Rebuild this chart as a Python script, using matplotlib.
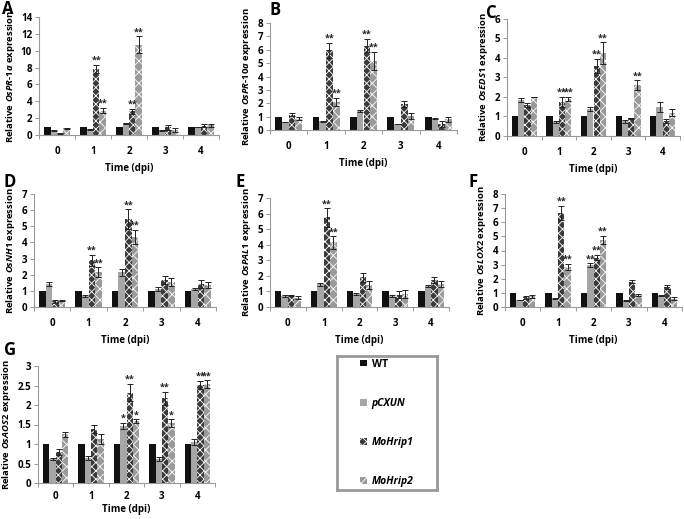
import numpy as np
import matplotlib
matplotlib.use('Agg')
import matplotlib.pyplot as plt
from matplotlib.patches import Patch

plt.rcParams['font.family'] = ['Open Sans', 'DejaVu Sans']
plt.rcParams['mathtext.fontset'] = 'custom'
plt.rcParams['mathtext.it'] = 'Open Sans:italic:bold'
plt.rcParams['mathtext.rm'] = 'Open Sans:bold'
plt.rcParams['hatch.linewidth'] = 0.6

days = ['0', '1', '2', '3', '4']
series = ['WT', 'pCXUN', 'MoHrip1', 'MoHrip2']

# mean values per panel: rows = series (WT, pCXUN, MoHrip1, MoHrip2), cols = days
pr1a = [[1, 1, 1, 1, 1],
        [0.55, 0.7, 1.4, 0.55, 0.95],
        [0.2, 7.8, 2.8, 0.9, 1.1],
        [0.8, 2.9, 10.7, 0.6, 1.15]]
pr1a_err = [[0, 0, 0, 0, 0],
            [0.03, 0.05, 0.05, 0.03, 0.05],
            [0.03, 0.5, 0.3, 0.3, 0.2],
            [0.05, 0.3, 1.0, 0.2, 0.2]]

pr10a = [[1, 1, 1, 1, 1],
         [0.6, 0.65, 1.45, 0.45, 0.85],
         [1.15, 5.95, 6.3, 1.95, 0.45],
         [0.85, 2.1, 5.15, 1.05, 0.8]]
pr10a_err = [[0, 0, 0, 0, 0],
             [0.03, 0.03, 0.07, 0.03, 0.05],
             [0.1, 0.55, 0.5, 0.2, 0.2],
             [0.1, 0.3, 0.7, 0.2, 0.2]]

eds1 = [[1, 1, 1, 1, 1],
        [1.85, 0.72, 1.4, 0.75, 1.5],
        [1.6, 1.75, 3.6, 0.9, 0.75],
        [2.0, 1.9, 4.25, 2.6, 1.2]]
eds1_err = [[0, 0, 0, 0, 0],
            [0.12, 0.05, 0.1, 0.07, 0.25],
            [0.1, 0.25, 0.35, 0.03, 0.1],
            [0.02, 0.12, 0.55, 0.25, 0.2]]

nh1 = [[1, 1, 1, 1, 1],
       [1.45, 0.7, 2.15, 1.1, 1.1],
       [0.35, 2.9, 5.45, 1.7, 1.4],
       [0.4, 2.15, 4.35, 1.55, 1.35]]
nh1_err = [[0, 0, 0, 0, 0],
           [0.12, 0.05, 0.2, 0.12, 0.07],
           [0.08, 0.35, 0.6, 0.25, 0.25],
           [0.05, 0.3, 0.45, 0.25, 0.2]]

pal1 = [[1, 1, 1, 1, 1],
        [0.7, 1.45, 0.85, 0.7, 1.35],
        [0.75, 5.75, 1.9, 0.8, 1.75],
        [0.6, 4.15, 1.4, 0.85, 1.5]]
pal1_err = [[0, 0, 0, 0, 0],
            [0.05, 0.08, 0.05, 0.05, 0.05],
            [0.05, 0.6, 0.3, 0.25, 0.2],
            [0.1, 0.4, 0.25, 0.25, 0.2]]

lox2 = [[1, 1, 1, 1, 1],
        [0.5, 0.6, 2.95, 0.45, 0.8],
        [0.7, 6.65, 3.5, 1.8, 1.4],
        [0.75, 2.85, 4.75, 0.85, 0.6]]
lox2_err = [[0, 0, 0, 0, 0],
            [0.02, 0.03, 0.15, 0.02, 0.05],
            [0.1, 0.5, 0.2, 0.1, 0.15],
            [0.1, 0.2, 0.3, 0.1, 0.1]]

aos2 = [[1, 1, 1, 1, 1],
        [0.62, 0.63, 1.47, 0.62, 1.05],
        [0.8, 1.38, 2.32, 2.17, 2.52],
        [1.25, 1.13, 1.58, 1.53, 2.53]]
aos2_err = [[0, 0, 0, 0, 0],
            [0.03, 0.05, 0.08, 0.05, 0.08],
            [0.07, 0.1, 0.22, 0.17, 0.1],
            [0.07, 0.12, 0.05, 0.1, 0.1]]

# significance marks: (day index, series index, text)
pr1a_sig = [(1, 2, '**'), (1, 3, '**'), (2, 2, '**'), (2, 3, '**')]
pr10a_sig = [(1, 2, '**'), (1, 3, '**'), (2, 2, '**'), (2, 3, '**')]
eds1_sig = [(1, 2, '**'), (1, 3, '**'), (2, 2, '**'), (2, 3, '**'), (3, 3, '**')]
nh1_sig = [(1, 2, '**'), (1, 3, '**'), (2, 2, '**'), (2, 3, '**')]
pal1_sig = [(1, 2, '**'), (1, 3, '**')]
lox2_sig = [(1, 2, '**'), (1, 3, '**'), (2, 1, '**'), (2, 2, '**'), (2, 3, '**')]
aos2_sig = [(2, 1, '*'), (2, 2, '**'), (2, 3, '*'), (3, 2, '**'), (3, 3, '*'),
            (4, 2, '**'), (4, 3, '**')]

W, H = 684, 519
fig = plt.figure(figsize=(W / 100, H / 100), dpi=100)

styles = [dict(color='#111111'),
          dict(color='#a6a6a6'),
          dict(facecolor='#3a3a3a', edgecolor='white', hatch='xxxx'),
          dict(facecolor='#9a9a9a', edgecolor='white', hatch='xxx')]


def px_axes(left, right, top, bottom):
    return fig.add_axes([left / W, 1 - bottom / H, (right - left) / W, (bottom - top) / H])


def panel(rect, vals, errs, sigs, ymax, yticks, gene, letter, letter_xy,
          xpad=8, xlabelpad=4):
    ax = px_axes(*rect)
    x = np.arange(len(days))
    bw = 0.18
    for i in range(4):
        xs = x + (i - 1.5) * bw
        ax.bar(xs, vals[i], bw, linewidth=0, **styles[i])
        if i > 0:
            ax.errorbar(xs, vals[i], yerr=errs[i], fmt='none', ecolor='#222222',
                        elinewidth=0.7, capsize=2, capthick=0.7)
    for d, s, t in sigs:
        top = vals[s][d] + errs[s][d]
        ax.text(d + (s - 1.5) * bw, top, t, ha='center', va='bottom',
                fontsize=6.5, fontweight='bold', color='#222222')
    ax.set_xlim(-0.5, len(days) - 0.5)
    ax.set_ylim(0, ymax)
    ax.set_yticks(yticks)
    ax.set_yticklabels(['{:g}'.format(v) for v in yticks])
    ax.set_xticks(x)
    ax.set_xticklabels(days)
    ax.set_xticks(np.arange(len(days) + 1) - 0.5, minor=True)
    ax.tick_params(axis='x', which='major', length=0, pad=xpad)
    ax.tick_params(axis='x', which='minor', length=3, color='#999999', width=0.7)
    ax.tick_params(axis='y', length=3, color='#999999', width=0.7, pad=2)
    for lab in ax.get_xticklabels() + ax.get_yticklabels():
        lab.set_fontsize(7)
        lab.set_fontweight('bold')
    for sp in ['top', 'right']:
        ax.spines[sp].set_visible(False)
    for sp in ['left', 'bottom']:
        ax.spines[sp].set_color('#999999')
        ax.spines[sp].set_linewidth(0.8)
    ax.set_xlabel('Time (dpi)', fontsize=7, fontweight='bold', labelpad=xlabelpad)
    ax.set_ylabel('Relative ' + gene + ' expression', fontsize=6.8, fontweight='bold', labelpad=3)
    fig.text(letter_xy[0] / W, 1 - letter_xy[1] / H, letter, fontsize=12,
             fontweight='bold', ha='center', va='center')
    return ax


panel((39, 219, 17, 135), pr1a, pr1a_err, pr1a_sig, 14, range(0, 15, 2),
      r'$\mathit{OsPR}$-$\mathit{1a}$', 'A', (8, 9))
panel((270, 457, 23, 130), pr10a, pr10a_err, pr10a_sig, 8, range(0, 9),
      r'$\mathit{OsPR}$-$\mathit{10a}$', 'B', (275, 10))
panel((507, 680, 19, 136), eds1, eds1_err, eds1_sig, 6, range(0, 7),
      r'$\mathit{OsEDS1}$', 'C', (491, 13))
panel((34, 216, 194, 307), nh1, nh1_err, nh1_sig, 7, range(0, 8),
      r'$\mathit{OsNH1}$', 'D', (10, 182))
panel((270, 449, 198, 307), pal1, pal1_err, pal1_sig, 7, range(0, 8),
      r'$\mathit{OsPAL1}$', 'E', (240, 182))
panel((505, 682, 194, 307), lox2, lox2_err, lox2_sig, 8, range(0, 9),
      r'$\mathit{OsLOX2}$', 'F', (473, 182))
panel((38, 215, 366, 483), aos2, aos2_err, aos2_sig, 3, [0, 0.5, 1, 1.5, 2, 2.5, 3],
      r'$\mathit{OsAOS2}$', 'G', (10, 350), xpad=6, xlabelpad=1)

# legend box
lax = px_axes(337, 437, 356, 490)
lax.set_xticks([])
lax.set_yticks([])
for sp in lax.spines.values():
    sp.set_color('#999999')
    sp.set_linewidth(2)
handles = [Patch(linewidth=0, **st) for st in styles]
leg = lax.legend(handles, series, loc='center', frameon=False, labelspacing=2.7,
                 handlelength=0.6, handleheight=0.6, handletextpad=0.5,
                 prop=dict(size=7.5, weight='bold'))
for t in leg.get_texts()[1:]:
    t.set_fontstyle('italic')

fig.savefig('out.png', dpi=100)
